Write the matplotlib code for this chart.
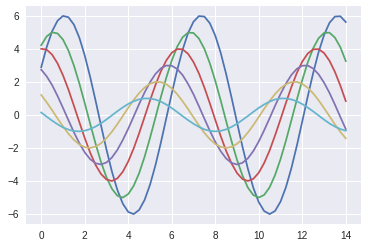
import matplotlib
matplotlib.use('Agg')
import matplotlib.pyplot as plt

# sample positions along x
x = [0.0, 0.25, 0.5, 0.75, 1.0, 1.25, 1.5, 1.75, 2.0, 2.25, 2.5, 2.75,
     3.0, 3.25, 3.5, 3.75, 4.0, 4.25, 4.5, 4.75, 5.0, 5.25, 5.5, 5.75,
     6.0, 6.25, 6.5, 6.75, 7.0, 7.25, 7.5, 7.75, 8.0, 8.25, 8.5, 8.75,
     9.0, 9.25, 9.5, 9.75, 10.0, 10.25, 10.5, 10.75, 11.0, 11.25, 11.5, 11.75,
     12.0, 12.25, 12.5, 12.75, 13.0, 13.25, 13.5, 13.75, 14.0]

# values
wave1 = [2.88, 4.09, 5.05, 5.69, 5.98, 5.90, 5.46, 4.67, 3.59, 2.29, 0.85, -0.65,
         -2.10, -3.43, -4.54, -5.37, -5.87, -6.00, -5.75, -5.15, -4.23, -3.05, -1.68, -0.20,
         1.29, 2.70, 3.94, 4.94, 5.63, 5.97, 5.94, 5.54, 4.79, 3.75, 2.47, 1.04,
         -0.45, -1.92, -3.26, -4.41, -5.28, -5.82, -6.00, -5.81, -5.25, -4.37, -3.22, -1.87,
         -0.40, 1.10, 2.52, 3.79, 4.82, 5.56, 5.94, 5.96, 5.61]
wave2 = [4.21, 4.74, 4.99, 4.92, 4.55, 3.89, 2.99, 1.91, 0.71, -0.54, -1.75, -2.86,
         -3.78, -4.47, -4.89, -5.00, -4.79, -4.29, -3.53, -2.54, -1.40, -0.17, 1.08, 2.25,
         3.28, 4.12, 4.69, 4.97, 4.95, 4.61, 3.99, 3.12, 2.06, 0.87, -0.38, -1.60,
         -2.72, -3.67, -4.40, -4.85, -5.00, -4.84, -4.38, -3.64, -2.68, -1.56, -0.33, 0.91,
         2.10, 3.16, 4.02, 4.63, 4.95, 4.97, 4.67, 4.09, 3.25]
wave3 = [3.99, 3.94, 3.64, 3.11, 2.39, 1.53, 0.56, -0.43, -1.40, -2.29, -3.03, -3.58,
         -3.91, -4.00, -3.84, -3.44, -2.82, -2.03, -1.12, -0.13, 0.86, 1.80, 2.63, 3.29,
         3.75, 3.98, 3.96, 3.69, 3.19, 2.50, 1.65, 0.70, -0.30, -1.28, -2.18, -2.94,
         -3.52, -3.88, -4.00, -3.87, -3.50, -2.91, -2.15, -1.24, -0.27, 0.73, 1.68, 2.53,
         3.22, 3.70, 3.96, 3.97, 3.74, 3.27, 2.60, 1.77, 0.83]
wave4 = [2.73, 2.33, 1.80, 1.14, 0.42, -0.32, -1.05, -1.71, -2.27, -2.68, -2.93, -3.00,
         -2.88, -2.58, -2.12, -1.52, -0.84, -0.10, 0.65, 1.35, 1.97, 2.47, 2.81, 2.98,
         2.97, 2.77, 2.40, 1.87, 1.24, 0.52, -0.23, -0.96, -1.63, -2.20, -2.64, -2.91,
         -3.00, -2.90, -2.63, -2.19, -1.61, -0.93, -0.20, 0.55, 1.26, 1.89, 2.41, 2.78,
         2.97, 2.98, 2.80, 2.45, 1.95, 1.33, 0.62, -0.13, -0.86]
wave5 = [1.20, 0.76, 0.28, -0.22, -0.70, -1.14, -1.51, -1.79, -1.96, -2.00, -1.92, -1.72,
         -1.41, -1.02, -0.56, -0.07, 0.43, 0.90, 1.31, 1.65, 1.88, 1.99, 1.98, 1.85,
         1.60, 1.25, 0.82, 0.35, -0.15, -0.64, -1.09, -1.47, -1.76, -1.94, -2.00, -1.94,
         -1.75, -1.46, -1.07, -0.62, -0.13, 0.37, 0.84, 1.26, 1.61, 1.85, 1.98, 1.99,
         1.87, 1.64, 1.30, 0.88, 0.41, -0.08, -0.58, -1.03, -1.42]
wave6 = [0.14, -0.11, -0.35, -0.57, -0.76, -0.89, -0.98, -1.00, -0.96, -0.86, -0.71, -0.51,
         -0.28, -0.03, 0.22, 0.45, 0.66, 0.82, 0.94, 0.99, 0.99, 0.92, 0.80, 0.62,
         0.41, 0.17, -0.08, -0.32, -0.54, -0.73, -0.88, -0.97, -1.00, -0.97, -0.88, -0.73,
         -0.54, -0.31, -0.07, 0.18, 0.42, 0.63, 0.80, 0.93, 0.99, 0.99, 0.93, 0.82,
         0.65, 0.44, 0.21, -0.04, -0.29, -0.52, -0.71, -0.86, -0.96]

waves = [wave1, wave2, wave3, wave4, wave5, wave6]
colors = ['#4C72B0', '#55A868', '#C44E52', '#8172B2', '#CCB974', '#64B5CD']

plt.rcParams['font.family'] = ['Liberation Sans', 'DejaVu Sans']

fig = plt.figure(figsize=(367 / 72, 247 / 72), dpi=72)
ax = fig.add_axes([26 / 367, 23 / 247, 335 / 367, 218 / 247])
ax.set_facecolor('#EAEAF2')
for s in ax.spines.values():
    s.set_visible(False)

for w, c in zip(waves, colors):
    ax.plot(x, w, color=c, lw=1.75)

ax.set_xticks([0, 2, 4, 6, 8, 10, 12, 14])
ax.set_yticks([-6, -4, -2, 0, 2, 4, 6])
ax.grid(True, color='white', lw=1)
ax.set_axisbelow(True)
ax.tick_params(length=0, labelsize=10, labelcolor='#262626', pad=7)

fig.savefig('out.png', dpi=72)
